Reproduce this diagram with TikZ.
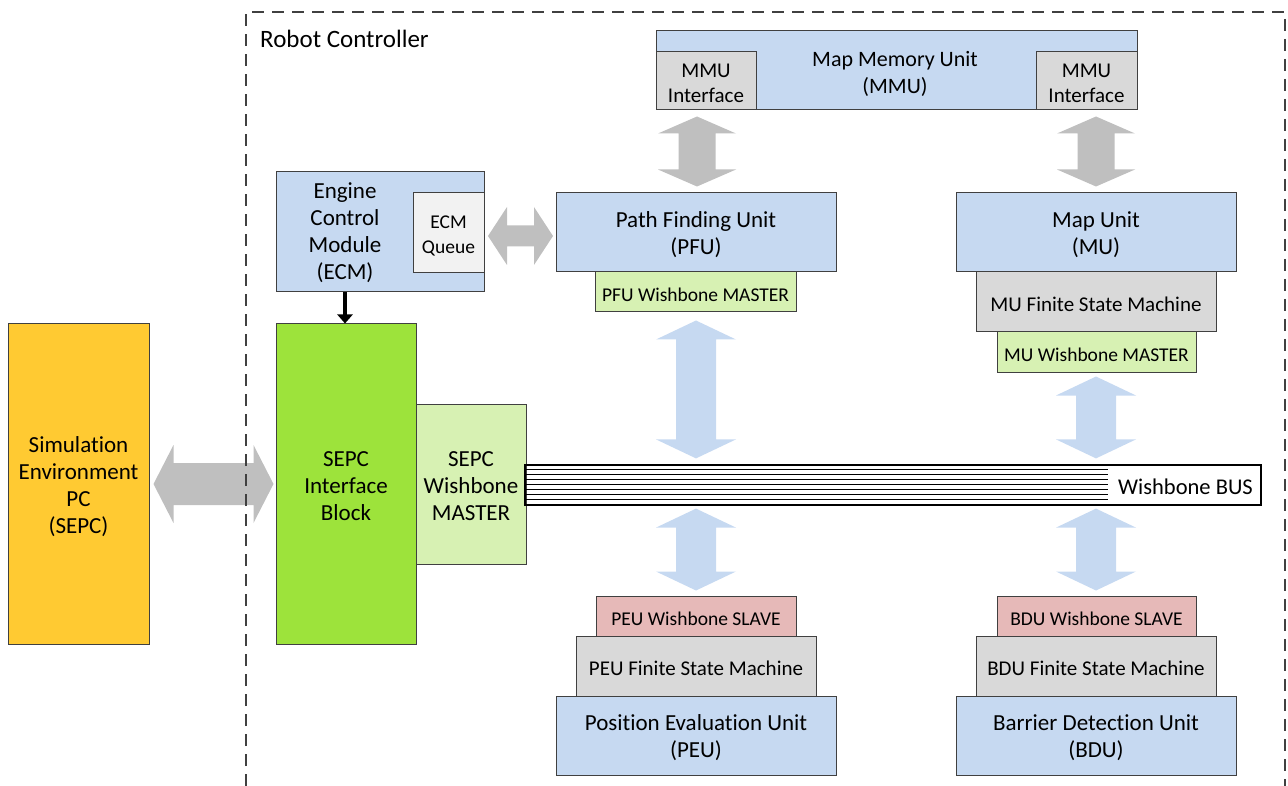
\documentclass[tikz,border=0pt]{standalone}
\usepackage{fontspec}
\setmainfont{Carlito}[Ligatures=NoCommon]
\usetikzlibrary{calc,arrows.meta}

\definecolor{edge}{HTML}{404040}
\definecolor{unitblue}{HTML}{C6D9F1}
\definecolor{fsmgray}{HTML}{D9D9D9}
\definecolor{queuegray}{HTML}{F2F2F2}
\definecolor{mastergreen}{HTML}{D7F1B3}
\definecolor{ifgreen}{HTML}{9DE33B}
\definecolor{pcyellow}{HTML}{FFCA32}
\definecolor{slavepink}{HTML}{E6B9B8}
\definecolor{arrowgray}{HTML}{BFBFBF}
\definecolor{arrowblue}{HTML}{C6D9F1}

\newcommand{\fsmain}{\fontsize{23}{27}\selectfont}
\newcommand{\fsfsm}{\fontsize{21}{25}\selectfont}
\newcommand{\fsmmu}{\fontsize{22}{27}\selectfont}
\newcommand{\fssmall}{\fontsize{19.5}{25}\selectfont}
\newcommand{\fsiface}{\fontsize{21}{25}\selectfont}

% a framed block (name, centre, width, height, fill, font, text); the text sits slightly low
\newcommand{\unitbox}[7]{%
  \node[box, fill=#5, minimum width=#3, minimum height=#4] (#1) at #2 {};
  \node[plain, font=#6] (#1-text) at ($(#1.center)+(0,2.5)$) {#7};}

% vertical double block arrow: top tip, bottom tip, head half width, shaft half width, head length, colour
\newcommand{\vdarrow}[6]{%
  \fill[#6] let \p1=#1, \p2=#2 in
    (\x1,\y1) -- (\x1+#3,\y1-#5) -- (\x1+#4,\y1-#5) -- (\x1+#4,\y2+#5) -- (\x1+#3,\y2+#5) -- (\x1,\y2)
    -- (\x1-#3,\y2+#5) -- (\x1-#4,\y2+#5) -- (\x1-#4,\y1-#5) -- (\x1-#3,\y1-#5) -- cycle;}
% horizontal double block arrow: left tip, right tip, head half width, shaft half width, head length, colour
\newcommand{\hdarrow}[6]{%
  \fill[#6] let \p1=#1, \p2=#2 in
    (\x1,\y1) -- (\x1+#5,\y1+#3) -- (\x1+#5,\y1+#4) -- (\x2-#5,\y1+#4) -- (\x2-#5,\y1+#3) -- (\x2,\y1)
    -- (\x2-#5,\y1-#3) -- (\x2-#5,\y1-#4) -- (\x1+#5,\y1-#4) -- (\x1+#5,\y1-#3) -- cycle;}

\begin{document}
\begin{tikzpicture}[x=1pt,y=-1pt,
  box/.style={draw=edge, line width=1pt, inner sep=0pt},
  plain/.style={inner sep=0pt, align=center, font=\fsmain},
  frame/.style={draw=edge, line width=1.1pt, dash pattern=on 12pt off 8pt}]
\useasboundingbox (0,0) rectangle (1288,786);

% external PC and interface block
\unitbox{sepc}{(78.5,484)}{141pt}{320pt}{pcyellow}{\fsmain}{Simulation\\Environment\\PC\\(SEPC)}
\unitbox{sif}{(346,484)}{140pt}{320pt}{ifgreen}{\fsmain}{SEPC\\Interface\\Block}
\unitbox{swm}{(471,484)}{110pt}{160pt}{mastergreen}{\fsmain}{SEPC\\Wishbone\\MASTER}

% engine control module
\node[box, fill=unitblue, minimum width=208pt, minimum height=120pt] (ecm) at (380,232) {};
\node[plain] (ecmtext) at (345,232.5) {Engine\\Control\\Module\\(ECM)};
\unitbox{ecmq}{(448.5,233)}{71pt}{80pt}{queuegray}{\fssmall}{ECM\\Queue}

% map memory unit
\node[box, fill=unitblue, minimum width=481pt, minimum height=79pt] (mmu) at (896.5,70.5) {};
\node[plain, font=\fsmmu] (mmutext) at (895,73.5) {Map Memory Unit\\(MMU)};
\unitbox{mmul}{(706,81)}{100pt}{58pt}{fsmgray}{\fsiface}{MMU\\Interface}
\unitbox{mmur}{(1086.5,81)}{101pt}{58pt}{fsmgray}{\fsiface}{MMU\\Interface}

% path finding unit
\unitbox{pfu}{(696,232.5)}{280pt}{79pt}{unitblue}{\fsmain}{Path Finding Unit\\(PFU)}
\unitbox{pfum}{(695.5,292)}{201pt}{40pt}{mastergreen}{\fssmall}{PFU Wishbone MASTER}

% map unit
\unitbox{mu}{(1096,232.5)}{280pt}{79pt}{unitblue}{\fsmain}{Map Unit\\(MU)}
\unitbox{mufsm}{(1096,302)}{240pt}{60pt}{fsmgray}{\fsfsm}{MU Finite State Machine}
\unitbox{mum}{(1096.5,352)}{199pt}{40pt}{mastergreen}{\fssmall}{MU Wishbone MASTER}

% position evaluation unit
\unitbox{peus}{(696,616)}{200pt}{40pt}{slavepink}{\fssmall}{PEU Wishbone SLAVE}
\unitbox{peufsm}{(696,666)}{240pt}{60pt}{fsmgray}{\fsfsm}{PEU Finite State Machine}
\unitbox{peu}{(696,735.5)}{280pt}{79pt}{unitblue}{\fsmain}{Position Evaluation Unit\\(PEU)}

% barrier detection unit
\unitbox{bdus}{(1096.5,616)}{199pt}{40pt}{slavepink}{\fssmall}{BDU Wishbone SLAVE}
\unitbox{bdufsm}{(1096,666)}{240pt}{60pt}{fsmgray}{\fsfsm}{BDU Finite State Machine}
\unitbox{bdu}{(1096,735.5)}{280pt}{79pt}{unitblue}{\fsmain}{Barrier Detection Unit\\(BDU)}

% wishbone bus
\node[draw=black, line width=1.2pt, minimum width=736pt, minimum height=40pt, inner sep=0pt] (bus) at (893,485) {};
\foreach \i in {0,...,8}{
  \pgfmathsetmacro{\lw}{mod(\i,2)==0 ? 1.6 : 0.9}
  \draw[line width=\lw pt] ($(bus.north west)+(0,5*\i)$) -- ($(bus.north west)+(584,5*\i)$);
}
\node[plain, font=\fontsize{22.5}{27}\selectfont] (buslabel) at (1185.5,487) {Wishbone BUS};

% block arrows
\hdarrow{($(sepc.east)+(4,0)$)}{($(sif.west)+(-2,0)$)}{39pt}{21pt}{20pt}{arrowgray}
\hdarrow{(488,236)}{(553,236)}{29pt}{10.5pt}{19pt}{arrowgray}
\vdarrow{($(mmul.south)+(-9,6)$)}{($(pfu.north)+(0,-6)$)}{39pt}{18.5pt}{17pt}{arrowgray}
\vdarrow{($(mmur.south)+(9.5,6)$)}{($(mu.north)+(0,-6)$)}{39pt}{18.5pt}{17pt}{arrowgray}
\vdarrow{($(pfum.south)+(0.5,8)$)}{($(bus.north)+(-197,-6)$)}{40pt}{20pt}{19pt}{arrowblue}
\vdarrow{($(mum.south)+(-0.5,4)$)}{($(bus.north)+(203,-6)$)}{40pt}{20pt}{19pt}{arrowblue}
\vdarrow{($(bus.south)+(-197,3)$)}{($(peus.north)+(0,-5)$)}{40pt}{20pt}{19pt}{arrowblue}
\vdarrow{($(bus.south)+(203,3)$)}{($(bdus.north)+(-0.5,-5)$)}{40pt}{20pt}{19pt}{arrowblue}

% command path from ECM into the interface block
\draw[line width=3.5pt, -{Triangle[width=15pt,length=9pt]}] (ecm.south -| ecmtext) -- (sif.north -| ecmtext);

% robot controller boundary
\draw[frame] (246,786) -- (246,12) -- (1285,12) -- (1285,786);
\node[plain, anchor=west, font=\fontsize{25}{30}\selectfont] (rc) at (260,39) {Robot Controller};
\end{tikzpicture}
\end{document}
